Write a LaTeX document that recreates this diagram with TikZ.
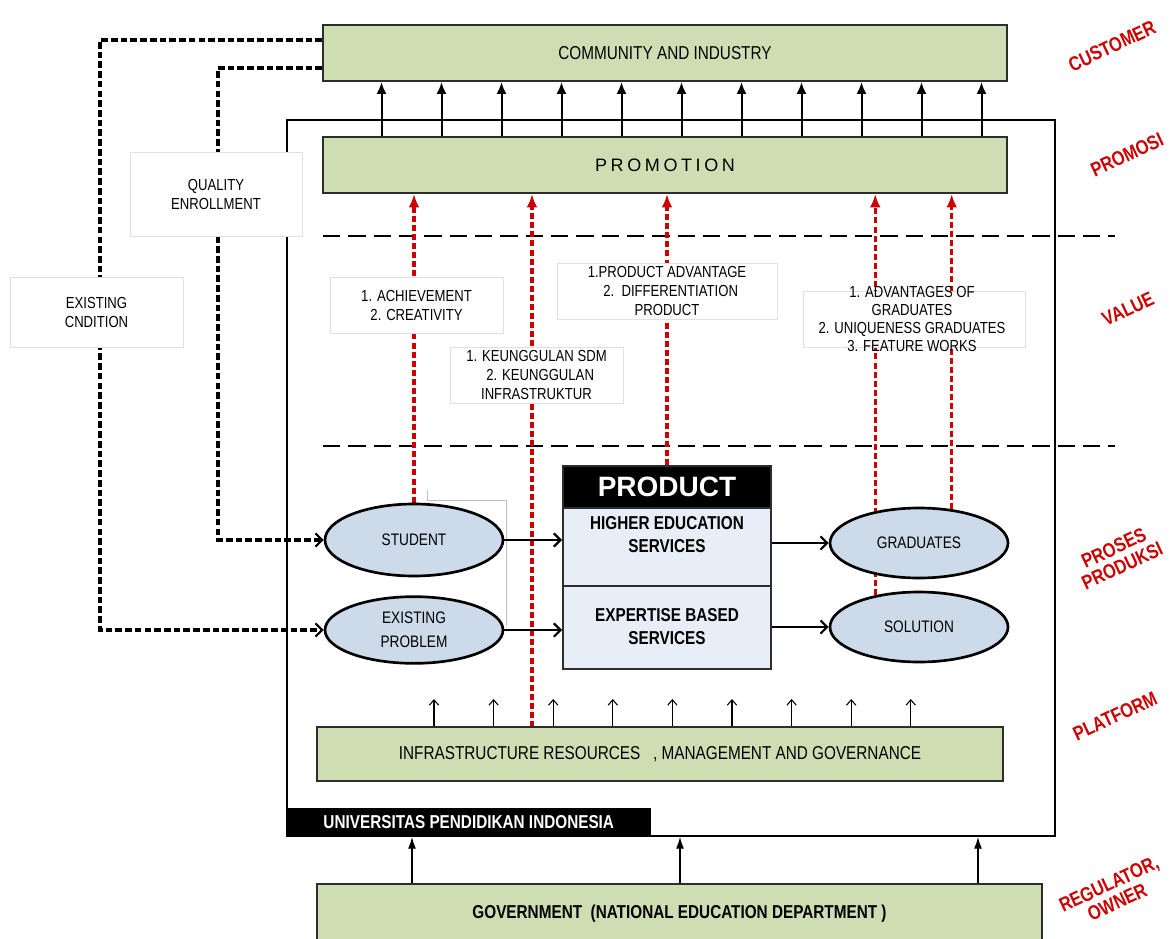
\documentclass[tikz,border=0pt]{standalone}
\usepackage{fontspec}
\setmainfont{Liberation Sans}[FakeStretch=0.82]
\newfontfamily\widefont{Liberation Sans}
\usetikzlibrary{arrows.meta,calc,shapes.geometric}

\definecolor{boxgreen}{RGB}{207,222,178}
\definecolor{ovalblue}{RGB}{204,218,233}
\definecolor{secblue}{RGB}{232,238,247}
\definecolor{stagered}{RGB}{204,0,0}
\definecolor{edgegray}{RGB}{45,45,45}

\pgfdeclarelayer{back}
\pgfsetlayers{back,main}

\tikzset{every picture/.style={line width=0.75pt}}
\tikzset{
  greenbox/.style={draw=edgegray, line width=1.5pt, fill=boxgreen, inner sep=0pt,
    font=\fontsize{14}{17}\selectfont},
  oval/.style={ellipse, draw=black, line width=2pt, fill=ovalblue, inner sep=0pt,
    minimum width=133.5pt, align=center, font=\fontsize{12.5}{18}\selectfont},
  prodsec/.style={draw=edgegray, line width=1.5pt, fill=secblue, minimum width=156pt, inner sep=0pt},
  sectext/.style={align=center, inner sep=0pt, font=\bfseries\fontsize{14}{17.25}\selectfont},
  valuebox/.style={draw=black!12, line width=0.6pt, fill=white, inner sep=0pt, align=center,
    font=\fontsize{12}{14.25}\selectfont},
  valuetext/.style={inner sep=0pt, align=center, font=\fontsize{12}{13.7}\selectfont},
  stage/.style={text=stagered, rotate=25, align=center, inner sep=0pt,
    font=\bfseries\fontsize{15}{15}\selectfont},
  bandline/.style={line width=2.2pt, dash pattern=on 13pt off 6pt},
  flowdot/.style={line width=2.3pt, dash pattern=on 5pt off 2.3pt,
    -{Straight Barb[length=5pt,width=10pt,line width=1.6pt]}},
  redflow/.style={draw=stagered, line width=2.4pt, dash pattern=on 4.5pt off 2.3pt,
    -{Latex[length=10pt,width=8pt]}, stagered},
  liftarrow/.style={line width=1.5pt, -{Latex[length=9pt,width=7.5pt]}},
  feedarrow/.style={line width=1.6pt, -{Straight Barb[length=5pt,width=10pt]}},
  baseline arrow/.style={line width=0.8pt, -{Straight Barb[length=4pt,width=7pt]}},
  govarrow/.style={line width=1.1pt, -{Latex[length=9pt,width=6pt]}}
}

\begin{document}
\begin{tikzpicture}[x=0.75pt,y=0.75pt,yscale=-1,xscale=1]
\useasboundingbox (0,0) rectangle (1173,938);

%Shape: Rectangle [university frame]
\node[draw, line width=1.1pt, minimum width=576pt, minimum height=537pt, inner sep=0pt] (upi) at (671,478) {};

%Shape: Rectangle [customer and promotion]
\node[greenbox, minimum width=513pt, minimum height=42pt] (community) at (665,53) {COMMUNITY AND INDUSTRY};
\node[greenbox, minimum width=513pt, minimum height=42pt] (promotion) at (665,165)
  {\widefont\addfontfeature{LetterSpace=20}\fontsize{13.5}{16}\selectfont PROMOTION};

%Shape: Rectangle [platform and regulator]
\node[greenbox, minimum width=514.5pt, minimum height=40.5pt] (infra) at (660,754)
  {INFRASTRUCTURE RESOURCES\ \ \ , MANAGEMENT AND GOVERNANCE};
\node[greenbox, minimum width=543.75pt, minimum height=45pt] (gov) at (679.5,914)
  {\bfseries GOVERNMENT \ (NATIONAL EDUCATION DEPARTMENT )};

%Shape: Rectangle [university name]
\node[draw=black, fill=black, text=white, minimum width=273pt, minimum height=21pt, inner sep=0pt,
  anchor=south west, font=\bfseries\fontsize{14}{16}\selectfont] (upiname) at (upi.south west)
  {UNIVERSITAS PENDIDIKAN INDONESIA};

%Shape: Rectangle [product]
\node[draw=edgegray, line width=1.5pt, fill=black, text=white, minimum width=156pt, minimum height=31.5pt,
  inner sep=0pt, font=\widefont\bfseries\fontsize{21}{24}\selectfont] (prodhead) at (667,487) {PRODUCT\hspace{13pt}};
\node[prodsec, minimum height=58.5pt] (hesec) at (667,547) {};
\node[prodsec, minimum height=62.25pt] (ebsec) at (667,627.5) {};
\node[sectext] (hetext) at (667,535) {HIGHER EDUCATION\\SERVICES};
\node[sectext] (ebtext) at (667,627) {EXPERTISE BASED\\SERVICES};

%Shape: Ellipse
\node[oval, minimum height=54pt] (student) at (414,540) {STUDENT};
\node[oval, minimum height=50pt] (problem) at (414,630) {EXISTING\\PROBLEM};
\node[oval, minimum height=52.5pt] (graduates) at (919,543) {GRADUATES};
\node[oval, minimum height=52.5pt] (solution) at (919,627) {SOLUTION};

%Shape: Rectangle [value labels]
\node[valuebox, minimum width=129.75pt, minimum height=42pt] (vstudent) at (416.5,305) {1. ACHIEVEMENT\\2. CREATIVITY};
\node[valuebox, minimum width=129.75pt, minimum height=42pt] (vinfra) at (536.5,375)
  {1. KEUNGGULAN SDM\\\ \ 2. KEUNGGULAN\\INFRASTRUKTUR};
\node[valuebox, minimum width=165pt, minimum height=42pt] (vproduct) at (667,291)
  {1.PRODUCT ADVANTAGE\\\ \ 2.\ \ DIFFERENTIATION\\PRODUCT};
\node[valuebox, minimum width=166.5pt, minimum height=42pt] (vgrad) at (914,319) {};
\node[valuetext] (vgradtext) at (912,319)
  {1. ADVANTAGES OF\\GRADUATES\\2. UNIQUENESS GRADUATES\\3. FEATURE WORKS};

%Shape: Rectangle [outside labels]
\node[valuebox, minimum width=129pt, minimum height=63pt] (quality) at (216,194) {QUALITY\\ENROLLMENT};
\node[valuebox, minimum width=129.75pt, minimum height=52.5pt] (condition) at (96.5,312) {EXISTING\\CNDITION};

%Text [stages]
\node[stage] (lcustomer) at (1112,46) {CUSTOMER};
\node[stage] (lpromosi) at (1127,155) {PROMOSI};
\node[stage] (lvalue) at (1128,309) {VALUE};
\node[stage] (lproses) at (1118,557) {PROSES\\PRODUKSI};
\node[stage] (lplatform) at (1115,716) {PLATFORM};
\node[stage] (lregulator) at (1113,893) {REGULATOR,\\OWNER};

\begin{pgfonlayer}{back}
%Straight Lines [value band]
\draw[bandline] (323,236) -- (1115,236);
\draw[bandline] (323,446) -- (1115,446);

%Straight Lines [inputs]
\coordinate (condbend) at (100,40);
\coordinate (enrollbend) at (218,68);
\draw[flowdot] ($(community.west)+(0,-13)$) -| (condbend |- problem.west) -- (problem.west);
\draw[flowdot] ($(community.west)+(0,15)$) -| (enrollbend |- student.west) -- (student.west);

%Straight Lines [value flows]
\coordinate (sdmfoot) at (532,727);
\draw[redflow] (student.north) -- (student.north |- promotion.south);
\draw[redflow] (sdmfoot) -- (sdmfoot |- promotion.south);
\draw[redflow] (prodhead.north) -- (prodhead.north |- promotion.south);
\draw[redflow] (solution.144) -- (solution.144 |- promotion.south);
\draw[redflow] (graduates.46) -- (graduates.46 |- promotion.south);
\end{pgfonlayer}

%Straight Lines [stray guide]
\draw[black!25, line width=0.6pt] (427,490) -- (427,500) -- (506,500) -- (506,626);

%Straight Lines [promotion to customer]
\foreach \dx in {0,...,10}
  \draw[liftarrow] ($(promotion.north west)+(59.5+60*\dx,0)$) -- ($(community.south west)+(59.5+60*\dx,0)$);

%Straight Lines [production]
\draw[feedarrow] (student.east) -- (student.east -| hesec.west);
\draw[feedarrow] (problem.east) -- (problem.east -| ebsec.west);
\draw[feedarrow] (graduates.west -| hesec.east) -- (graduates.west);
\draw[feedarrow] (solution.west -| ebsec.east) -- (solution.west);

%Straight Lines [platform]
\foreach \dx in {0,...,8}
  \draw[baseline arrow] ($(infra.north west)+(118+59.6*\dx,0)$) -- +(0,-27);

%Straight Lines [regulator]
\foreach \gx [count=\i] in {96,364,662}
  \coordinate (gfoot\i) at ($(gov.north west)+(\gx,0)$);
\foreach \i in {1,2,3}
  \draw[govarrow] (gfoot\i) -- (gfoot\i |- upi.south);

\end{tikzpicture}
\end{document}
